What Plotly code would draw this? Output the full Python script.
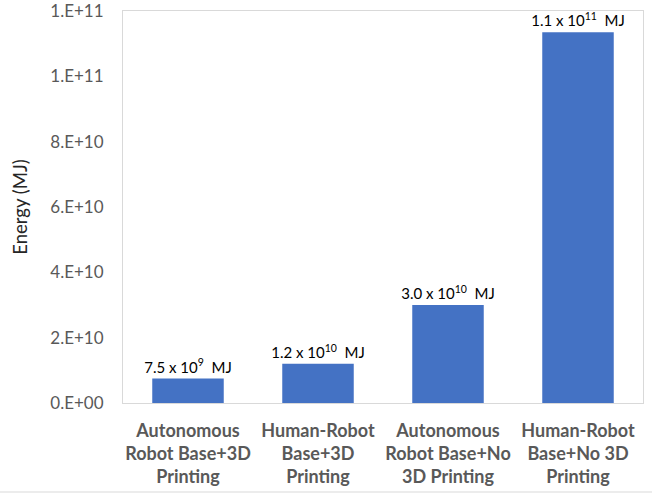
import plotly.graph_objects as go

# Embodied energy per construction scenario (MJ)
categories = [
    "Autonomous Robot Base+3D Printing",
    "Human-Robot Base+3D Printing",
    "Autonomous Robot Base+No 3D Printing",
    "Human-Robot Base+No 3D Printing",
]
category_labels = [
    "Autonomous<br>Robot Base+3D<br>Printing",
    "Human-Robot<br>Base+3D<br>Printing",
    "Autonomous<br>Robot Base+No<br>3D Printing",
    "Human-Robot<br>Base+No 3D<br>Printing",
]
energy_mj = [7.5e9, 1.2e10, 3.0e10, 1.135e11]

y_tick_values = [0, 2e10, 4e10, 6e10, 8e10, 1.0e11, 1.2e11]
y_tick_labels = ["0.E+00", "2.E+10", "4.E+10", "6.E+10", "8.E+10", "1.E+11", "1.E+11"]
y_max = 1.2e11


def sci_label(v):
    exp = 0
    m = v
    while m >= 10:
        m /= 10
        exp += 1
    return f"{m:.1f} x 10<sup>{exp}</sup>  MJ"


bar_text = [sci_label(v) for v in energy_mj]

FONT = "Lato, 'Open Sans', sans-serif"
GRID = "#d9d9d9"

fig = go.Figure(
    go.Bar(
        x=categories,
        y=energy_mj,
        marker=dict(color="#4472C4", line=dict(width=0)),
        text=bar_text,
        textposition="outside",
        constraintext="none",
        textfont=dict(family=FONT, size=15, color="#000000"),
        cliponaxis=False,
    )
)

fig.update_layout(
    width=652,
    height=493,
    margin=dict(l=123, r=9, t=11, b=90, autoexpand=False),
    paper_bgcolor="white",
    plot_bgcolor="white",
    bargap=0.45,
    showlegend=False,
    font=dict(family=FONT),
    shapes=[
        dict(
            type="line", xref="paper", yref="paper",
            x0=-123 / 520, x1=529 / 520, y0=-89 / 392, y1=-89 / 392,
            line=dict(color=GRID, width=1),
        )
    ],
)

fig.update_xaxes(
    tickvals=categories,
    ticktext=category_labels,
    tickfont=dict(family=FONT, size=18, color="#595959", weight="bold"),
    ticklabelstandoff=11,
    automargin=False,
    showline=True, linecolor=GRID, linewidth=1, mirror=True,
    ticks="", showgrid=False,
)

fig.update_yaxes(
    range=[0, y_max * 1.0002],
    tickvals=y_tick_values,
    ticktext=y_tick_labels,
    tickfont=dict(family=FONT, size=17, color="#595959"),
    ticklabelstandoff=15,
    ticklabeloverflow="allow",
    automargin=False,
    showline=True, linecolor=GRID, linewidth=1, mirror=True,
    showgrid=False, zeroline=False, ticks="",
    title=dict(text="Energy (MJ)", font=dict(family=FONT, size=18.5, color="#262626"), standoff=17),
)

fig.write_html("out.html")
